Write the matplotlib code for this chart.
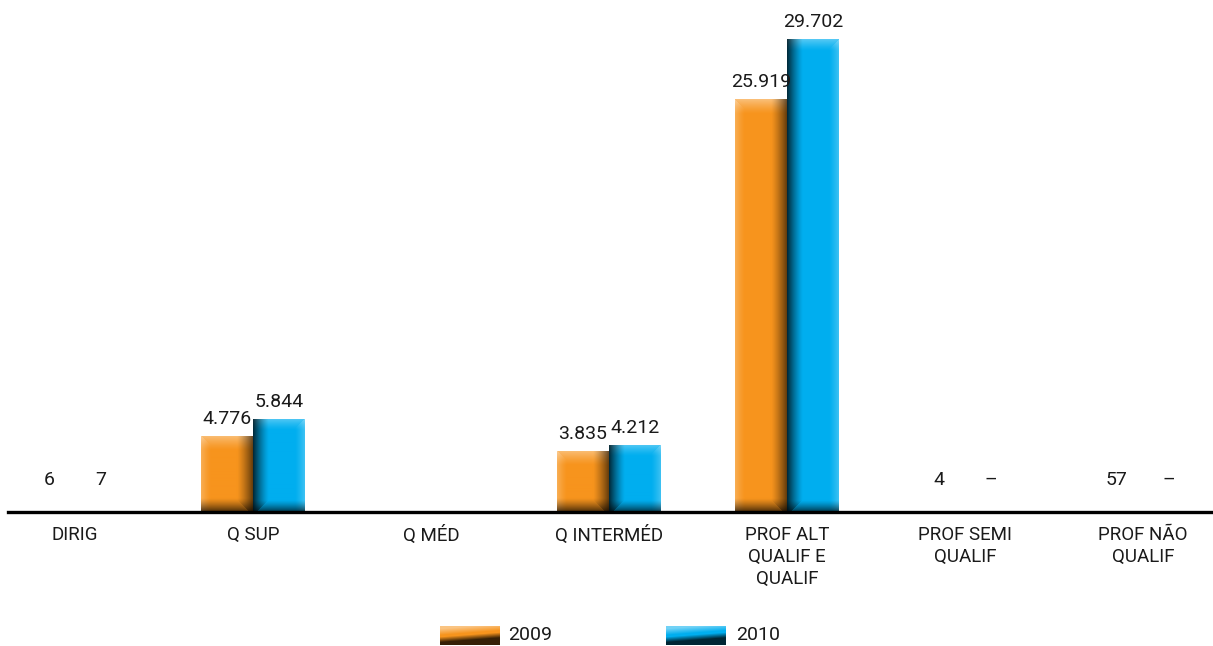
import numpy as np
import matplotlib
matplotlib.use("Agg")
import matplotlib.pyplot as plt
from matplotlib.colors import to_rgb

categories = ["DIRIG", "Q SUP", "Q MÉD", "Q INTERMÉD",
              "PROF ALT\nQUALIF E\nQUALIF", "PROF SEMI\nQUALIF", "PROF NÃO\nQUALIF"]
values_2009 = [6, 4776, None, 3835, 25919, 4, 57]
values_2010 = [7, 5844, None, 4212, 29702, None, None]
labels_2009 = ["6", "4.776", "", "3.835", "25.919", "4", "57"]
labels_2010 = ["7", "5.844", "", "4.212", "29.702", "–", "–"]
series_names = ["2009", "2010"]

ORANGE = "#F7941D"
BLUE = "#00AEEF"
FONT = "Roboto"

W, H = 1213, 646
fig = plt.figure(figsize=(W / 100, H / 100), dpi=100)
# axes placed in pixel terms: baseline at y=512 px, left edge at x=8
ax_left, ax_right = 8, 1213
ax_bottom_px, ax_top_px = 512, 10
ax = fig.add_axes([ax_left / W, (H - ax_bottom_px) / H,
                   (ax_right - ax_left) / W, (ax_bottom_px - ax_top_px) / H])

step = 178.0
x0 = 75.0
xs = np.arange(len(categories))
bw = 52 / step
xlim = ((ax_left - x0) / step, (ax_right - x0) / step)
ymax = 29702 * (ax_bottom_px - ax_top_px) / 473.0
ax.set_xlim(*xlim)
ax.set_ylim(0, ymax)


def shade_image(w, h, base, kind):
    base = np.array(to_rgb(base))
    yy = np.arange(h)[:, None] + 0.5
    xx = np.arange(w)[None, :] + 0.5
    img = np.ones((h, w, 3)) * base
    dt = yy
    db = h - yy
    dl = xx
    dr = w - xx

    def fall(d, n):
        return np.clip(1 - d / n, 0, 1) ** 1.3

    white = np.ones(3)
    black = np.zeros(3)

    def blend(img, mask, col, k):
        m = (mask * k)[..., None]
        return img * (1 - m) + col * m

    if kind == "orange":
        img = blend(img, fall(dl, 10) * (dl < dt), white, 0.25)
        img = blend(img, fall(dt, 15) * np.ones_like(dl), white, 0.42)
        img = blend(img, fall(dr, 16) * (dr < db + 4), black, 0.60)
        img = blend(img, fall(db, 14) * np.ones_like(dl), black, 0.72)
    else:
        img = blend(img, fall(dr, 10) * (dr < dt), white, 0.25)
        img = blend(img, fall(dt, 12) * np.ones_like(dl), white, 0.35)
        img = blend(img, fall(dl, 16) * (dl < db + 4), black, 0.78)
        img = blend(img, fall(db, 12) * np.ones_like(dl), black, 0.70)
    return np.clip(img, 0, 1)


def draw_bars(offset, vals, color, kind):
    v = [0 if val is None else val for val in vals]
    bars = ax.bar(xs + offset, v, width=bw, color=color, linewidth=0, zorder=2)
    for patch, val in zip(bars.patches, vals):
        if not val:
            continue
        ext = patch.get_window_extent()
        wpx = max(int(round(ext.width)), 2)
        hpx = max(int(round(ext.height)), 2)
        img = shade_image(wpx, hpx, color, kind)
        px, py = patch.get_x(), patch.get_y()
        im = ax.imshow(img, extent=[px, px + patch.get_width(), py, py + patch.get_height()],
                       aspect="auto", interpolation="bilinear", zorder=3)
        im.set_clip_path(patch)
    return bars


draw_bars(-bw / 2, values_2009, ORANGE, "orange")
draw_bars(bw / 2, values_2010, BLUE, "blue")
ax.set_xlim(*xlim)
ax.set_ylim(0, ymax)

# value labels; tiny values are lifted to a readable height
floor = ymax * 15 / (ax_bottom_px - ax_top_px)
for vals, labs, off in ((values_2009, labels_2009, -bw / 2), (values_2010, labels_2010, bw / 2)):
    for i, (val, lab) in enumerate(zip(vals, labs)):
        if not lab:
            continue
        y = max(val or 0, floor)
        ax.annotate(lab, (xs[i] + off, y), xytext=(0, 12.5), textcoords="offset points",
                    ha="center", va="center", fontsize=14, family=FONT, color="#1a1a1a")

for s in ["top", "right", "left"]:
    ax.spines[s].set_visible(False)
ax.spines["bottom"].set_linewidth(2.4)
ax.spines["bottom"].set_color("black")
ax.spines["bottom"].set_zorder(5)
ax.set_yticks([])
ax.set_xticks(xs)
ax.set_xticklabels(categories, fontsize=13.5, family=FONT, color="#1a1a1a", linespacing=1.3)
ax.tick_params(axis="x", length=0, pad=10)
ax.patch.set_alpha(0)


# legend swatches
def legend_swatch(xp, color):
    w, h = 60, 19
    sax = fig.add_axes([xp / W, (H - 645) / H, w / W, h / H])
    base = np.array(to_rgb(color))
    yy = np.linspace(0, 1, h)[:, None]
    xx = np.linspace(0, 1, w)[None, :]
    t = np.clip(yy + 0.25 * (xx - 0.5), 0, 1)
    light = base * 0.55 + 0.45
    dark = base * 0.22
    top = np.clip(1 - t / 0.35, 0, 1)[..., None]
    bot = np.clip((t - 0.45) / 0.3, 0, 1)[..., None]
    img = base * np.ones((h, w, 3))
    img = img * (1 - top) + light * top
    img = img * (1 - bot) + dark * bot
    sax.imshow(np.clip(img, 0, 1), aspect="auto", interpolation="bilinear")
    sax.set_axis_off()


legend_swatch(440, ORANGE)
legend_swatch(666, BLUE)
fig.text(508 / W, (H - 635) / H, series_names[0], fontsize=14, family=FONT,
         va="center", ha="left", color="#1a1a1a")
fig.text(736 / W, (H - 635) / H, series_names[1], fontsize=14, family=FONT,
         va="center", ha="left", color="#1a1a1a")

fig.savefig("out.png", dpi=100, facecolor="white")
